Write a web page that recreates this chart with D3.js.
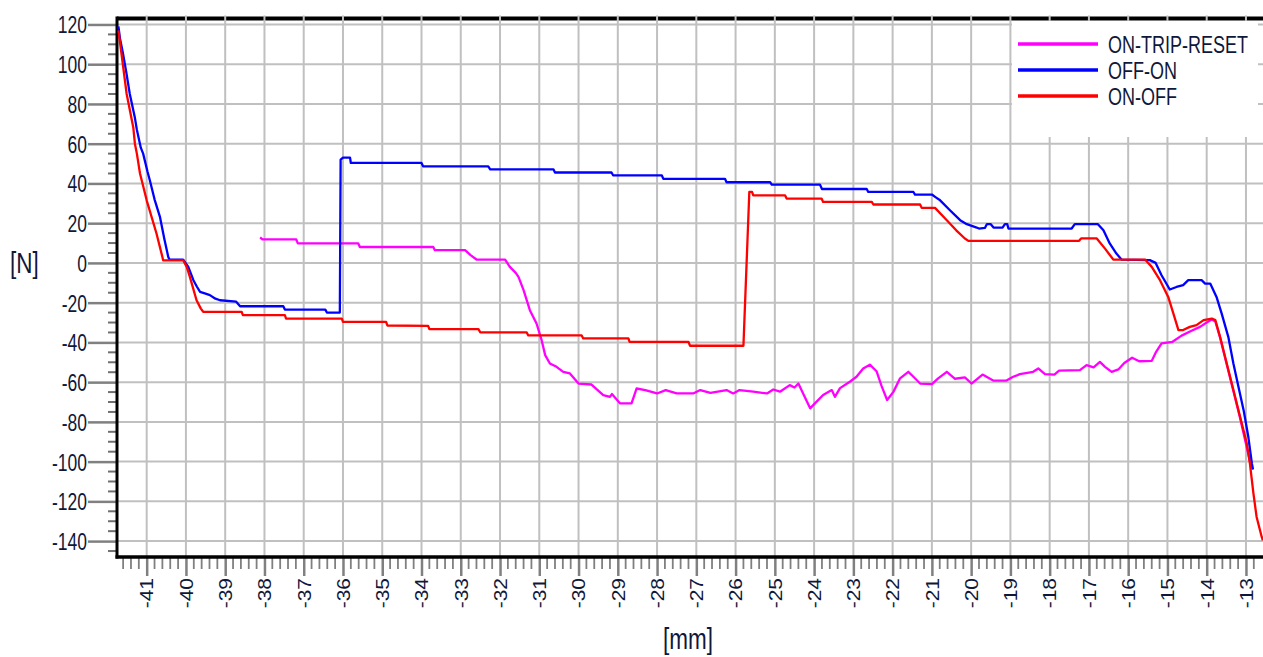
<!DOCTYPE html>
<html>
<head>
<meta charset="utf-8">
<script src="https://cdn.jsdelivr.net/npm/d3@7"></script>
<style>
  body { margin: 0; background: #fff; }
  svg { display: block; }
  text { font-family: "Liberation Sans", Arial, sans-serif; fill: #10183a; }
</style>
</head>
<body>
<div id="chart"></div>
<script>
// tick labels
var xTickValues = [-41,-40,-39,-38,-37,-36,-35,-34,-33,-32,-31,-30,-29,-28,-27,-26,-25,-24,-23,-22,-21,-20,-19,-18,-17,-16,-15,-14,-13]
var yTickValues = [-140,-120,-100,-80,-60,-40,-20,0,20,40,60,80,100,120]

var seriesNames = ['ON-TRIP-RESET', 'OFF-ON', 'ON-OFF']
var seriesColors = ['#ff00ff', '#0000ff', '#ff0000']

// [mm, N]
var onTripReset = [
  [-38.11,12.8],[-38.05,11.8],[-37.19,11.8],[-37.15,9.8],[-35.61,9.8],[-35.57,8],[-33.7,8],[-33.66,6.4],
  [-32.89,6.4],[-32.75,3.9],[-32.6,1.7],[-31.87,1.7],[-31.75,-2],[-31.6,-5],[-31.53,-7],[-31.4,-13.7],
  [-31.24,-23.8],[-31.07,-30.5],[-30.94,-38.9],[-30.85,-46.4],[-30.73,-50.6],[-30.56,-52.3],[-30.39,-54.8],
  [-30.22,-55.6],[-30.0,-60.7],[-29.67,-61.2],[-29.37,-66.5],[-29.2,-67.4],[-29.15,-66],[-28.94,-70.7],
  [-28.65,-70.7],[-28.52,-63.2],[-28.3,-64],[-28.0,-65.7],[-27.78,-64],[-27.5,-65.7],[-27.08,-65.7],
  [-26.9,-64],[-26.64,-65.4],[-26.23,-64],[-26.06,-65.7],[-25.9,-64],[-25.55,-64.8],[-25.2,-65.7],
  [-25.04,-63.7],[-24.87,-64.8],[-24.62,-61.5],[-24.5,-62.7],[-24.4,-60.7],[-24.28,-65.7],[-24.1,-73.2],
  [-23.98,-70.7],[-23.77,-66.5],[-23.55,-64],[-23.47,-67.4],[-23.34,-63],[-23.09,-59.8],[-22.92,-57.3],
  [-22.75,-53.1],[-22.58,-51.2],[-22.41,-54.5],[-22.28,-62],[-22.14,-69],[-21.98,-64.9],[-21.81,-58.1],
  [-21.6,-54.8],[-21.47,-57.3],[-21.3,-60.7],[-21.0,-61],[-20.84,-58.1],[-20.62,-54.8],[-20.41,-58.3],
  [-20.16,-57.6],[-19.99,-60.7],[-19.71,-56.2],[-19.44,-59.2],[-19.1,-59.2],[-18.93,-57.3],[-18.76,-56],
  [-18.42,-54.8],[-18.29,-53.1],[-18.12,-56],[-17.88,-56.2],[-17.76,-54.2],[-17.23,-54],[-17.06,-51.4],
  [-16.88,-52.6],[-16.72,-49.8],[-16.59,-52.3],[-16.42,-54.8],[-16.25,-53.6],[-16.1,-50.4],[-15.9,-47.7],
  [-15.72,-49.5],[-15.4,-49.3],[-15.3,-45.2],[-15.15,-40.5],[-14.87,-39.7],[-14.64,-36.6],[-14.4,-34.3],
  [-14.17,-32.2],[-14.0,-30],[-13.87,-28.5],[-13.78,-29.5],[-13.66,-37.5],[-13.49,-51],[-13.32,-64.5],
  [-13.15,-78],[-13.0,-91],[-12.85,-104]
]

var offOn = [
  [-41.72,119],[-41.68,113],[-41.6,105],[-41.52,96],[-41.43,85],[-41.3,73],[-41.25,67],[-41.15,58],
  [-41.09,55],[-40.98,46],[-40.92,41.6],[-40.8,32],[-40.66,23],[-40.55,12],[-40.45,3],[-40.42,1.7],
  [-40.07,1.7],[-39.94,-2],[-39.81,-8.7],[-39.72,-12],[-39.64,-14.6],[-39.5,-15.5],[-39.39,-16.2],
  [-39.25,-18],[-39.13,-18.8],[-38.72,-19.5],[-38.62,-21.8],[-37.52,-21.8],[-37.48,-23.5],[-36.45,-23.5],
  [-36.41,-25],[-36.08,-25],[-36.06,52],[-36.0,53],[-35.82,53],[-35.8,50.3],[-34.0,50.3],[-33.96,48.6],
  [-32.3,48.6],[-32.25,47.1],[-30.64,47.1],[-30.6,45.5],[-29.16,45.5],[-29.12,44.1],[-27.88,44.1],
  [-27.84,42.3],[-26.27,42.3],[-26.23,40.6],[-25.12,40.6],[-25.08,39.4],[-23.85,39.4],[-23.8,37.2],
  [-22.66,37.2],[-22.62,35.7],[-21.47,35.7],[-21.43,34.4],[-21.0,34.4],[-20.9,33],[-20.79,31.5],
  [-20.54,26.5],[-20.28,21.5],[-20.11,19.5],[-19.86,17.8],[-19.8,17.3],[-19.65,17.6],[-19.6,19.5],
  [-19.5,19.5],[-19.43,17.8],[-19.2,17.8],[-19.14,19.5],[-19.08,19.5],[-19.05,17.3],[-17.44,17.3],
  [-17.36,19.5],[-16.77,19.5],[-16.63,16.4],[-16.47,9.8],[-16.3,4.7],[-16.17,1.7],[-15.45,1.4],
  [-15.3,0],[-15.15,-6.2],[-14.94,-13.4],[-14.77,-12.1],[-14.6,-11.2],[-14.47,-8.7],[-14.13,-8.7],
  [-14.04,-10.4],[-13.91,-10.4],[-13.75,-17.1],[-13.62,-25.4],[-13.45,-37.2],[-13.32,-50.6],
  [-13.19,-62.4],[-13.06,-74.1],[-12.94,-87.5],[-12.85,-100.9],[-12.82,-104]
]

var onOff = [
  [-41.72,117],[-41.64,105],[-41.51,85],[-41.34,68],[-41.3,60],[-41.25,55],[-41.17,45],[-41.0,31.5],
  [-40.75,14.8],[-40.6,3],[-40.58,1.3],[-40.07,1.3],[-39.98,-2],[-39.9,-7],[-39.73,-18.8],[-39.62,-23],
  [-39.56,-24.6],[-38.58,-24.6],[-38.55,-26.3],[-37.48,-26.3],[-37.45,-28],[-36.03,-28],[-36.0,-29.7],
  [-34.9,-29.7],[-34.87,-31.5],[-33.83,-31.7],[-33.8,-33.3],[-32.55,-33.3],[-32.5,-35],[-31.32,-35],
  [-31.28,-36.5],[-29.92,-36.5],[-29.88,-38],[-28.73,-38],[-28.7,-39.7],[-27.2,-39.7],[-27.16,-41.7],
  [-25.8,-41.7],[-25.65,35.7],[-25.58,35.7],[-25.55,34],[-24.74,34],[-24.7,32.4],[-23.81,32.4],
  [-23.77,30.7],[-22.53,30.7],[-22.49,29.4],[-21.3,29.4],[-21.26,27.7],[-20.92,27.7],[-20.62,21.5],
  [-20.38,16.4],[-20.16,12.3],[-20.07,11.1],[-17.25,11.1],[-17.2,12.3],[-16.8,12.3],[-16.59,7.2],
  [-16.38,1.7],[-15.57,1.7],[-15.4,-2],[-15.19,-8.7],[-14.98,-17.1],[-14.85,-25.4],[-14.72,-33.8],
  [-14.6,-33.8],[-14.43,-32.2],[-14.26,-31.3],[-14.08,-28.8],[-13.87,-28],[-13.78,-28.8],[-13.66,-37.2],
  [-13.49,-50.6],[-13.32,-64],[-13.15,-77.4],[-12.98,-90.8],[-12.9,-100.9],[-12.81,-116],[-12.73,-127.7],
  [-12.6,-137.8],[-12.57,-139.6]
]

var allSeries = [onTripReset, offOn, onOff]

var width = 1263, height = 657
var plotLeft = 117, plotRight = 1263, plotTop = 18.5, plotBottom = 557

var xScale = d3.scaleLinear().domain([-41.756, -12.566]).range([plotLeft, plotRight])
var yScale = d3.scaleLinear().domain([-148, 123]).range([plotBottom, plotTop])

var svg = d3.select('#chart').append('svg')
  .attr('width', width)
  .attr('height', height)

svg.append('clipPath').attr('id', 'clip')
  .append('rect')
  .attr('x', plotLeft).attr('y', plotTop)
  .attr('width', plotRight - plotLeft).attr('height', plotBottom - plotTop)

// top border (gridlines cut through it)
svg.append('line')
  .attr('x1', plotLeft).attr('x2', plotRight)
  .attr('y1', plotTop).attr('y2', plotTop)
  .attr('stroke', '#000').attr('stroke-width', 4)

// grid
var grid = svg.append('g').attr('class', 'grid')
grid.selectAll('.vgrid')
  .data(xTickValues)
  .enter().append('line')
  .attr('x1', function(d){ return xScale(d) }).attr('x2', function(d){ return xScale(d) })
  .attr('y1', plotTop - 3).attr('y2', plotBottom)
  .attr('stroke', '#c0c0c0').attr('stroke-width', 2)
grid.selectAll('.hgrid')
  .data(yTickValues)
  .enter().append('line')
  .attr('x1', plotLeft).attr('x2', plotRight)
  .attr('y1', function(d){ return yScale(d) }).attr('y2', function(d){ return yScale(d) })
  .attr('stroke', '#c0c0c0').attr('stroke-width', 2)

// legend background hides grid
svg.append('rect')
  .attr('x', 1012).attr('y', 21)
  .attr('width', 246).attr('height', 116)
  .attr('fill', '#fff')

// minor ticks
var xMinor = d3.range(-41.6, -12.6, 0.2).filter(function(v){ return Math.abs(v - Math.round(v)) > 0.05 })
var yMinor = d3.range(-145, 121, 5).filter(function(v){ return v % 20 !== 0 })

svg.append('g').selectAll('line')
  .data(xMinor)
  .enter().append('line')
  .attr('x1', function(d){ return xScale(d) }).attr('x2', function(d){ return xScale(d) })
  .attr('y1', plotBottom).attr('y2', plotBottom + 12)
  .attr('stroke', '#808080').attr('stroke-width', 1.8)

svg.append('g').selectAll('line')
  .data(yMinor)
  .enter().append('line')
  .attr('x1', plotLeft - 9).attr('x2', plotLeft)
  .attr('y1', function(d){ return yScale(d) }).attr('y2', function(d){ return yScale(d) })
  .attr('stroke', '#707070').attr('stroke-width', 2)

// axes
var plainFormat = function(d){ return String(d) }
var yAxis = d3.axisLeft(yScale).tickValues(yTickValues).tickFormat(plainFormat)
  .tickSize(29).tickSizeOuter(0).tickPadding(1)
var xAxis = d3.axisBottom(xScale).tickValues(xTickValues).tickFormat(plainFormat)
  .tickSize(19).tickSizeOuter(0)

var gy = svg.append('g')
  .attr('transform', 'translate(' + plotLeft + ',0)')
  .call(yAxis)
gy.selectAll('.tick line').attr('stroke', '#808080').attr('stroke-width', 2.5)
gy.selectAll('.tick text')
  .attr('font-size', 17.5)
  .attr('font-family', '"Liberation Sans", Arial, sans-serif')
  .attr('fill', '#10183a')
  .attr('dy', '0.36em')
  .attr('transform', 'scale(1,1.35)')

var gx = svg.append('g')
  .attr('transform', 'translate(0,' + plotBottom + ')')
  .call(xAxis)
gx.selectAll('.tick line').attr('stroke', '#808080').attr('stroke-width', 2.5)
gx.selectAll('.tick text')
  .attr('font-size', 17.5)
  .attr('font-family', '"Liberation Sans", Arial, sans-serif')
  .attr('fill', '#10183a')
  .attr('x', 0).attr('y', 0)
  .attr('dy', '0.36em')
  .attr('text-anchor', 'end')
  .attr('transform', 'translate(0,21) scale(1,1.2) rotate(-90)')

gy.select('.domain').remove()
gx.select('.domain').remove()

svg.append('line')
  .attr('x1', plotLeft).attr('x2', plotLeft)
  .attr('y1', plotTop - 2).attr('y2', plotBottom + 1.5)
  .attr('stroke', '#000').attr('stroke-width', 3)
svg.append('line')
  .attr('x1', plotLeft - 1.5).attr('x2', plotRight)
  .attr('y1', plotBottom).attr('y2', plotBottom)
  .attr('stroke', '#000').attr('stroke-width', 3.5)

// axis titles
svg.append('g')
  .attr('transform', 'translate(24.5,262) scale(1,1.35)')
  .append('text')
  .attr('text-anchor', 'middle')
  .attr('dy', '0.36em')
  .attr('font-size', 22.5)
  .text('[N]')

svg.append('g')
  .attr('transform', 'translate(688,638) scale(1,1.3)')
  .append('text')
  .attr('text-anchor', 'middle')
  .attr('dy', '0.36em')
  .attr('font-size', 22.5)
  .text('[mm]')

// data lines
var line = d3.line()
  .x(function(d){ return xScale(d[0]) })
  .y(function(d){ return yScale(d[1]) })

svg.append('g')
  .attr('clip-path', 'url(#clip)')
  .selectAll('path')
  .data(allSeries)
  .enter().append('path')
  .attr('d', line)
  .attr('fill', 'none')
  .attr('stroke', function(d, i){ return seriesColors[i] })
  .attr('stroke-width', 2.3)
  .attr('stroke-linejoin', 'round')

// legend
var legend = svg.append('g').attr('class', 'legend')
var legendItem = legend.selectAll('g')
  .data(seriesNames)
  .enter().append('g')
  .attr('transform', function(d, i){ return 'translate(0,' + (44 + 26 * i) + ')' })

legendItem.append('line')
  .attr('x1', 1018).attr('x2', 1098)
  .attr('y1', 0).attr('y2', 0)
  .attr('stroke', function(d, i){ return seriesColors[i] })
  .attr('stroke-width', 3.5)

legendItem.append('g')
  .attr('transform', 'translate(1108,0) scale(1,1.35)')
  .append('text')
  .attr('dy', '0.36em')
  .attr('font-size', 18)
  .text(function(d){ return d })
</script>
</body>
</html>
